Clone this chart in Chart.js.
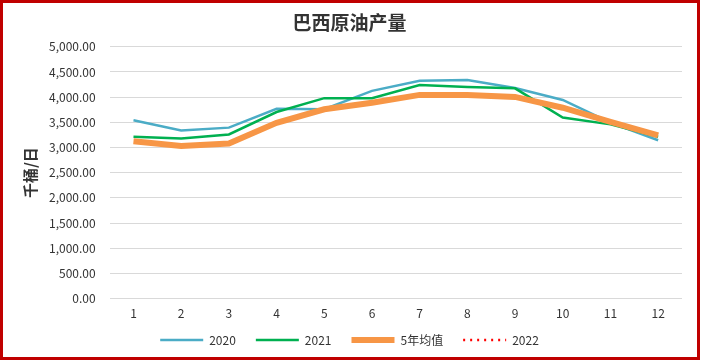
<!DOCTYPE html>
<html><head><meta charset="utf-8">
<script src="https://cdn.jsdelivr.net/npm/chart.js@4.4.0/dist/chart.umd.min.js"></script>
<style>
html,body{margin:0;padding:0;background:#fff;}
#wrap{position:relative;width:702px;height:362px;}
#frame{position:absolute;left:0;top:0;width:694px;height:354px;border:3px solid #C00000;pointer-events:none;}
canvas{position:absolute;left:0;top:0;}
</style></head>
<body>
<div id="wrap"><canvas id="c" width="702" height="362"></canvas><div id="frame"></div></div>
<script>
const categories = ['1','2','3','4','5','6','7','8','9','10','11','12'];
const s2020 = [3540, 3340, 3395, 3770, 3760, 4125, 4325, 4340, 4180, 3945, 3495, 3145];
const s2021 = [3215, 3180, 3260, 3705, 3980, 3980, 4240, 4200, 4175, 3595, 3460, 3215];
const s5yr  = [3125, 3030, 3080, 3490, 3760, 3890, 4045, 4045, 4005, 3790, 3510, 3240];
const s2022 = [];
const fontCJK = '"Noto Sans CJK SC", "Liberation Sans", sans-serif';
Chart.defaults.font.family = fontCJK;
const legendShrink = {
  id:'legendShrink',
  beforeLayout(chart){
    const lg = chart.legend;
    if (lg && !lg._patched){
      const orig = lg.fit;
      lg.fit = function(){ orig.call(this); this.height -= 13; };
      lg._patched = true;
    }
  },
  afterLayout(chart){
    const lg = chart.legend;
    if (lg){ lg.top -= 15; lg.bottom = chart.height; lg.height = lg.bottom - lg.top; }
  }
};
new Chart(document.getElementById('c'), {
  type: 'line',
  data: {
    labels: categories,
    datasets: [
      {label:'2020', data:s2020, borderColor:'#4BACC6', backgroundColor:'#4BACC6', borderWidth:2.5, pointRadius:0, tension:0, order:3},
      {label:'2021', data:s2021, borderColor:'#00B050', backgroundColor:'#00B050', borderWidth:2.5, pointRadius:0, tension:0, order:2},
      {label:'5年均值', data:s5yr, borderColor:'#F79646', backgroundColor:'#F79646', borderWidth:6, pointRadius:0, tension:0, order:1},
      {label:'2022', data:s2022, borderColor:'#FF0000', backgroundColor:'#FF0000', borderWidth:2.5, borderDash:[2,5], pointRadius:0, order:0}
    ]
  },
  plugins:[legendShrink],
  options: {
    responsive:false,
    animation:false,
    layout:{padding:{left:17,right:20,top:3,bottom:4}},
    plugins:{
      title:{display:true,text:'巴西原油产量',color:'#333',font:{size:19,weight:'bold',family:fontCJK},padding:{top:8,bottom:13}},
      legend:{position:'bottom',labels:{boxWidth:43,boxHeight:0,color:'#333',font:{size:12},padding:20,
        sort:(a,b)=>a.datasetIndex-b.datasetIndex}},
      tooltip:{enabled:false}
    },
    scales:{
      x:{offset:true,grid:{display:false,drawTicks:false},border:{display:false},ticks:{color:'#333',font:{size:12},padding:8}},
      y:{min:0,max:5000,border:{display:false},
         afterFit:(s)=>{ s.width -= 10; },
         grid:{color:'#D9D9D9',drawTicks:false},
         title:{display:true,text:'千桶/日',color:'#333',font:{size:15,weight:'bold'},padding:{bottom:6}},
         ticks:{stepSize:500,color:'#333',font:{size:12},padding:14,
           callback:v=>v.toLocaleString('en-US',{minimumFractionDigits:2,maximumFractionDigits:2})}}
    }
  }
});
</script>
</body></html>
